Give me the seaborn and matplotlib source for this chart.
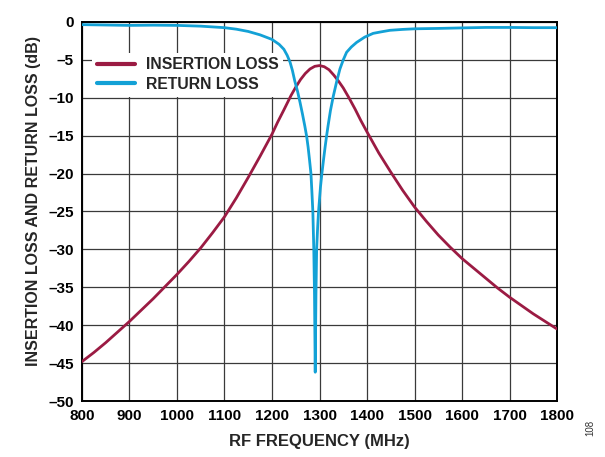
import matplotlib
matplotlib.use("Agg")
import matplotlib.pyplot as plt
from matplotlib.ticker import FixedLocator, FuncFormatter
import numpy as np
import pandas as pd
import seaborn as sns

# Insertion loss S21 (dB) vs RF frequency (MHz)
il_freq = [800, 825, 850, 875, 900, 925, 950, 975, 1000, 1025, 1050, 1075,
           1100, 1125, 1150, 1175, 1200, 1212, 1225, 1240, 1250, 1260, 1270,
           1280, 1290, 1300, 1310, 1320, 1330, 1340, 1350, 1362, 1375, 1387,
           1400, 1425, 1450, 1475, 1500, 1525, 1550, 1575, 1600, 1625, 1650,
           1675, 1700, 1725, 1750, 1775, 1800]
il_db = [-44.8, -43.6, -42.3, -40.9, -39.5, -38.0, -36.5, -34.9, -33.3, -31.6,
         -29.8, -27.8, -25.7, -23.2, -20.5, -17.7, -14.8, -13.2, -11.6, -9.7,
         -8.6, -7.6, -6.8, -6.2, -5.85, -5.75, -5.9, -6.3, -7.0, -7.8, -8.7,
         -10.0, -11.5, -13.0, -14.5, -17.3, -19.8, -22.2, -24.4, -26.3, -28.1,
         -29.7, -31.2, -32.5, -33.8, -35.1, -36.3, -37.4, -38.5, -39.5, -40.5]

# Return loss S11 (dB) vs RF frequency (MHz)
rl_freq = [800, 850, 900, 950, 1000, 1050, 1100, 1125, 1150, 1175, 1200, 1215,
           1225, 1232, 1238, 1243, 1248, 1254, 1259, 1264, 1269, 1273, 1276,
           1279, 1282, 1284, 1286, 1288, 1289.5, 1291, 1292.5, 1294, 1296,
           1298, 1302, 1305, 1309, 1312, 1315, 1318, 1323, 1329, 1336, 1343,
           1350, 1357, 1367, 1378, 1395, 1413, 1430, 1448, 1475, 1500, 1550,
           1600, 1650, 1700, 1750, 1800]
rl_db = [-0.35, -0.4, -0.45, -0.42, -0.45, -0.55, -0.75, -0.95, -1.25, -1.7,
         -2.3, -2.95, -3.6, -4.4, -5.3, -6.4, -7.8, -9.2, -10.6, -12.1, -13.7,
         -15.1, -16.5, -18.2, -20.0, -22.4, -25.0, -30.0, -36.0, -46.2, -36.0,
         -30.0, -27.2, -25.0, -21.8, -20.0, -17.9, -16.4, -15.0, -13.7, -11.7,
         -9.8, -7.9, -6.2, -5.0, -4.0, -3.3, -2.7, -2.0, -1.5, -1.3, -1.1,
         -0.98, -0.9, -0.85, -0.78, -0.72, -0.72, -0.75, -0.75]

x_ticks = [800, 900, 1000, 1100, 1200, 1300, 1400, 1500, 1600, 1700, 1800]
y_ticks = [0, -5, -10, -15, -20, -25, -30, -35, -40, -45, -50]

series_names = ["INSERTION LOSS", "RETURN LOSS"]
series_colors = ["#9B1B43", "#13A1D6"]

df = pd.concat([
    pd.DataFrame({"freq": il_freq, "db": il_db, "series": series_names[0]}),
    pd.DataFrame({"freq": rl_freq, "db": rl_db, "series": series_names[1]}),
], ignore_index=True)

sns.set_theme(style="white")
plt.rcParams["font.family"] = ["Liberation Sans", "DejaVu Sans"]
plt.rcParams["font.weight"] = "bold"

fig = plt.figure(figsize=(6.05, 4.57), dpi=100)
ax = fig.add_axes([0.1355, 0.1225, 0.7852, 0.8294])

sns.lineplot(data=df, x="freq", y="db", hue="series", hue_order=series_names,
             palette=dict(zip(series_names, series_colors)), linewidth=2.0,
             sort=False, estimator=None, ax=ax, zorder=3)

ax.set_xlim(800, 1800)
ax.set_ylim(-50, 0)
ax.xaxis.set_major_locator(FixedLocator(x_ticks))
ax.yaxis.set_major_locator(FixedLocator(y_ticks))
ax.yaxis.set_major_formatter(FuncFormatter(lambda v, p: f"{v:.0f}".replace("-", "\u2013")))
ax.tick_params(axis="both", length=0, pad=6, labelsize=11, colors="black")
for lab in ax.get_xticklabels() + ax.get_yticklabels():
    lab.set_fontweight("bold")

ax.grid(True, color="#3a3a3a", linewidth=0.9, zorder=0)
for side in ax.spines.values():
    side.set_color("black")
    side.set_linewidth(1.4)

ax.set_xlabel("RF FREQUENCY (MHz)", fontsize=12, fontweight="bold", labelpad=8)
ax.set_ylabel("INSERTION LOSS AND RETURN LOSS (dB)", fontsize=11.5,
              fontweight="bold", labelpad=5, y=0.527)

leg = ax.legend(loc="upper left", bbox_to_anchor=(0.005, 0.94), frameon=True,
                fontsize=11.3, handlelength=2.4, handletextpad=0.7,
                labelspacing=0.3, borderpad=0.3, fancybox=False,
                edgecolor="none", facecolor="white", framealpha=1.0)
for t in leg.get_texts():
    t.set_fontweight("bold")
for h in leg.get_lines():
    h.set_linewidth(3.0)

fig.text(0.975, 0.045, "108", rotation=90, fontsize=7, fontweight="normal",
         color="#333333", ha="center", va="bottom")

fig.savefig("out.png", dpi=100, facecolor="white")
